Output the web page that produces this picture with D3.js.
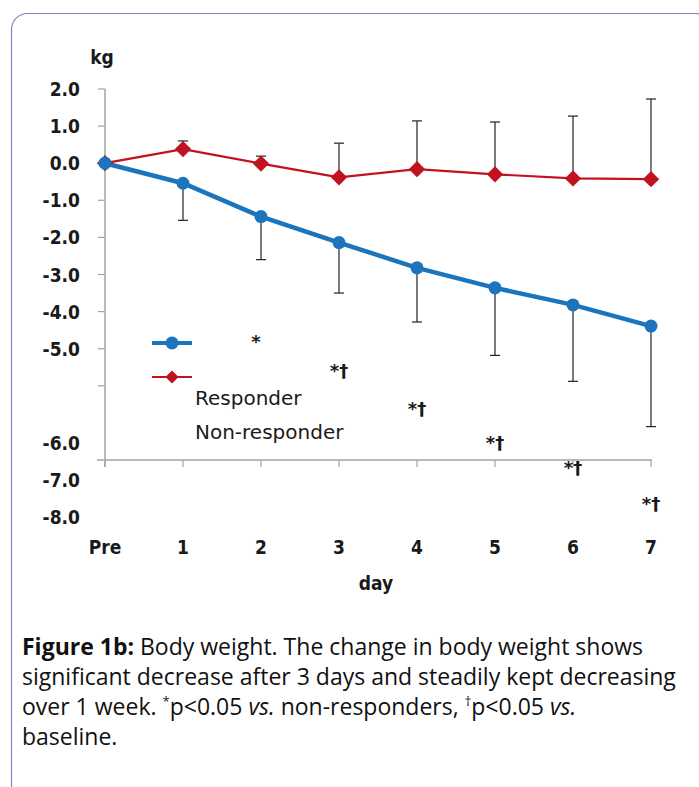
<!DOCTYPE html>
<html>
<head>
  <meta charset="utf-8">
  <script src="https://d3js.org/d3.v7.min.js"></script>
  <style>
    body { margin: 0; background: #fff; }
    svg { display: block; }
    .tick-label { font-family: "DejaVu Sans Condensed", "DejaVu Sans", sans-serif; font-weight: bold; font-size: 19px; fill: #1a1a1a; }
    .legend_text { font-family: "DejaVu Sans", sans-serif; font-size: 20px; fill: #1a1a1a; }
    .caption { font-family: "Open Sans", sans-serif; font-size: 23px; fill: #111; }
  </style>
</head>
<body>
  <script>
    // days on the x axis
    var days = ["Pre", "1", "2", "3", "4", "5", "6", "7"];
    // change in body weight (kg)
    var responder = [0, -0.54, -1.44, -2.14, -2.82, -3.36, -3.82, -4.39];
    var responderLow = [0, -1.54, -2.6, -3.5, -4.28, -5.18, -5.88, -7.1];
    var nonResponder = [0, 0.38, -0.01, -0.38, -0.16, -0.3, -0.41, -0.43];
    var nonResponderHigh = [0, 0.6, 0.19, 0.54, 1.14, 1.11, 1.27, 1.73];
    var yTicks = [2, 1, 0, -1, -2, -3, -4, -5, -6, -7, -8];
    // significance marks, as drawn in the figure
    var sigDays = ["2", "3", "4", "5", "6", "7"];
    var sigMarks = ["*", "*\u2020", "*\u2020", "*\u2020", "*\u2020", "*\u2020"];
    var sigLabelKg = [-4.98, -5.76, -6.79, -7.7, -8.38, -9.35];

    "use strict";
    var svg = d3.select("body").append("svg")
      .attr("width", 699)
      .attr("height", 787);

    // card border
    svg.append("rect")
      .attr("x", 11.5).attr("y", 13.5)
      .attr("width", 700).attr("height", 790)
      .attr("rx", 16)
      .attr("fill", "none")
      .attr("stroke", "#7d87c6")
      .attr("stroke-width", 1.2);

    var x = d3.scalePoint().domain(days).range([105, 651]);
    var y = d3.scaleLinear().domain([2, -8]).range([89, 460]);
    var axisColor = "#a3a3a3";

    // axes
    svg.append("line")
      .attr("x1", x("Pre")).attr("x2", x("Pre"))
      .attr("y1", y(2)).attr("y2", y(-8) + 7)
      .attr("stroke", axisColor).attr("stroke-width", 1.5);
    svg.append("line")
      .attr("x1", x("Pre") - 8).attr("x2", x("7") + 1)
      .attr("y1", y(-8)).attr("y2", y(-8))
      .attr("stroke", axisColor).attr("stroke-width", 1.5);

    svg.selectAll("line.ytick")
      .data(yTicks.filter(function (d) { return d > -7; }))
      .enter().append("line")
      .attr("class", "ytick")
      .attr("x1", x("Pre") - 7).attr("x2", x("Pre"))
      .attr("y1", function (d) { return y(d); })
      .attr("y2", function (d) { return y(d); })
      .attr("stroke", axisColor).attr("stroke-width", 1.2);

    svg.selectAll("line.xtick")
      .data(days)
      .enter().append("line")
      .attr("class", "xtick")
      .attr("x1", function (d) { return x(d); })
      .attr("x2", function (d) { return x(d); })
      .attr("y1", y(-8)).attr("y2", y(-8) + 7)
      .attr("stroke", axisColor).attr("stroke-width", 1.2);

    // y tick labels (lower three sit further down in the figure)
    svg.selectAll("text.ylab")
      .data(yTicks)
      .enter().append("text")
      .attr("class", "tick-label ylab")
      .attr("x", 80)
      .attr("y", function (d) { return y(d) + (d < -5.5 ? 57 : 0); })
      .attr("text-anchor", "end")
      .attr("dominant-baseline", "central")
      .text(function (d) { return d3.format(".1f")(d).replace("\u2212", "-"); });

    svg.selectAll("text.xlab")
      .data(days)
      .enter().append("text")
      .attr("class", "tick-label xlab")
      .attr("x", function (d) { return x(d); })
      .attr("y", 547)
      .attr("text-anchor", "middle")
      .attr("dominant-baseline", "central")
      .text(function (d) { return d; });

    svg.append("text")
      .attr("class", "tick-label")
      .attr("x", 102).attr("y", 57)
      .attr("text-anchor", "middle")
      .attr("dominant-baseline", "central")
      .text("kg");

    svg.append("text")
      .attr("class", "tick-label")
      .attr("x", 376).attr("y", 583)
      .attr("text-anchor", "middle")
      .attr("dominant-baseline", "central")
      .text("day");

    var blue = "#1c75bc", red = "#c1121f";

    // error bars
    function errorBars(lo, hi, cls) {
      var g = svg.append("g").attr("class", cls);
      days.forEach(function (d, i) {
        if (i === 0) return;
        var cx = x(d);
        g.append("line")
          .attr("x1", cx).attr("x2", cx)
          .attr("y1", y(lo[i])).attr("y2", y(hi[i]))
          .attr("stroke", "#222").attr("stroke-width", 1.2);
        var capV = cls === "err-resp" ? lo[i] : hi[i];
        g.append("line")
          .attr("x1", cx - 5).attr("x2", cx + 5)
          .attr("y1", y(capV)).attr("y2", y(capV))
          .attr("stroke", "#222").attr("stroke-width", 1.2);
      });
    }
    errorBars(responderLow, responder, "err-resp");
    errorBars(nonResponder, nonResponderHigh, "err-non");

    var line = d3.line()
      .x(function (d, i) { return x(days[i]); })
      .y(function (d) { return y(d); });

    svg.append("path")
      .datum(nonResponder)
      .attr("d", line)
      .attr("fill", "none")
      .attr("stroke", red)
      .attr("stroke-width", 2.2);

    svg.append("path")
      .datum(responder)
      .attr("d", line)
      .attr("fill", "none")
      .attr("stroke", blue)
      .attr("stroke-width", 4.5);

    var diamond = d3.symbol().type(d3.symbolDiamond2).size(170);
    svg.selectAll("path.nonresp")
      .data(nonResponder)
      .enter().append("path")
      .attr("class", "nonresp")
      .attr("d", diamond)
      .attr("transform", function (d, i) { return "translate(" + x(days[i]) + "," + y(d) + ")"; })
      .attr("fill", red);

    svg.selectAll("circle.resp")
      .data(responder)
      .enter().append("circle")
      .attr("class", "resp")
      .attr("cx", function (d, i) { return x(days[i]); })
      .attr("cy", function (d) { return y(d); })
      .attr("r", 6.5)
      .attr("fill", blue);

    // legend
    var legend = svg.append("g").attr("class", "legend");
    legend.append("line")
      .attr("x1", 152).attr("x2", 192).attr("y1", 343).attr("y2", 343)
      .attr("stroke", blue).attr("stroke-width", 4);
    legend.append("circle")
      .attr("cx", 172).attr("cy", 343).attr("r", 6.5).attr("fill", blue);
    legend.append("line")
      .attr("x1", 152).attr("x2", 192).attr("y1", 377).attr("y2", 377)
      .attr("stroke", red).attr("stroke-width", 2.2);
    legend.append("path")
      .attr("d", d3.symbol().type(d3.symbolDiamond2).size(110))
      .attr("transform", "translate(172,377)")
      .attr("fill", red);
    legend.selectAll("text")
      .data(["Responder", "Non-responder"])
      .enter().append("text")
      .attr("class", "legend_text")
      .attr("x", 195)
      .attr("y", function (d, i) { return 405 + i * 34; })
      .text(function (d) { return d; });

    // significance marks
    svg.selectAll("text.sig")
      .data(sigMarks)
      .enter().append("text")
      .attr("class", "sig")
      .attr("x", function (d, i) { return x(sigDays[i]) - (d.length === 1 ? 5 : 0); })
      .attr("y", function (d, i) { return y(sigLabelKg[i]); })
      .attr("text-anchor", "middle")
      .style("font-family", "DejaVu Sans, sans-serif")
      .style("font-weight", "bold")
      .style("font-size", "18px")
      .style("fill", "#1a1a1a")
      .text(function (d) { return d; });

    // caption
    var cap = svg.append("g").attr("class", "caption");
    var l1 = cap.append("text").attr("x", 22).attr("y", 655);
    l1.append("tspan").style("font-weight", "bold").text("Figure 1b:");
    l1.append("tspan").text(" Body weight. The change in body weight shows");
    cap.append("text").attr("x", 22).attr("y", 685)
      .text("significant decrease after 3 days and steadily kept decreasing");
    var l3 = cap.append("text").attr("x", 22).attr("y", 715);
    l3.append("tspan").text("over 1 week. ");
    l3.append("tspan").attr("dy", -9).style("font-size", "13px").text("*");
    l3.append("tspan").attr("dy", 9).text("p<0.05 ");
    l3.append("tspan").style("font-style", "italic").text("vs.");
    l3.append("tspan").text(" non-responders, ");
    l3.append("tspan").attr("dy", -9).style("font-size", "13px").style("fill", "#111").text("\u2020");
    l3.append("tspan").attr("dy", 9).text("p<0.05 ");
    l3.append("tspan").style("font-style", "italic").text("vs.");
    cap.append("text").attr("x", 22).attr("y", 745).text("baseline.");
  </script>
</body>
</html>
